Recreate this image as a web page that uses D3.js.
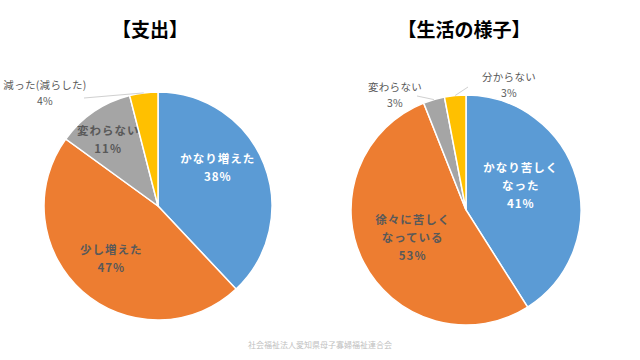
<!DOCTYPE html>
<html><head><meta charset="utf-8">
<script src="https://cdn.jsdelivr.net/npm/d3@7"></script>
<style>
body{margin:0;background:#fff;}
text{font-family:"Noto Sans CJK JP","Noto Sans",sans-serif;}
</style></head>
<body><svg id="c" width="640" height="360"></svg>
<script>
// ---- data ----
const titles = ["【支出】", "【生活の様子】"];
const spendCategories = ["かなり増えた", "少し増えた", "変わらない", "減った(減らした)"];
const spendValues = [38, 47, 11, 4];
const lifeCategories = ["かなり苦しくなった", "徐々に苦しくなっている", "変わらない", "分からない"];
const lifeValues = [41, 53, 3, 3];
const spendLabelLines = [["かなり増えた"], ["少し増えた"], ["変わらない"], ["減った(減らした)"]];
const lifeLabelLines = [["かなり苦しく", "なった"], ["徐々に苦しく", "なっている"], ["変わらない"], ["分からない"]];
const footer = "社会福祉法人愛知県母子寡婦福祉連合会";

// ---- style ----
const colors = ["#5B9BD5", "#ED7D31", "#A5A5A5", "#FFC000"];
const svg = d3.select("#c");

const pies = [
  {cx:158, cy:206, r:114, values:spendValues, lines:spendLabelLines, title:titles[0], tx:150,
   lab:[{f:0.62,dx:-6,dy:-12,fill:"#fff"},{f:0.62,dx:0,dy:0,fill:"#595959"},{f:0.7,dx:-5,dy:0,fill:"#595959"},
        {out:true,lx:45,ly:93,sx:84,sy:98}]},
  {cx:466, cy:210, r:115, values:lifeValues, lines:lifeLabelLines, title:titles[1], tx:464,
   lab:[{f:0.55,dx:-6,dy:-6,fill:"#fff"},{f:0.55,dx:3,dy:-1,fill:"#595959"},
        {out:true,lx:395,ly:95,sx:417,sy:96},{out:true,lx:509,ly:85,sx:468,sy:87}]}
];

pies.forEach(p => {
  const g = svg.append("g").attr("transform", `translate(${p.cx},${p.cy})`);
  const arcs = d3.pie().sort(null).value(d => d)(p.values);
  const arc = d3.arc().innerRadius(0).outerRadius(p.r);
  g.selectAll("path.s").data(arcs).join("path")
    .attr("class","s").attr("d", arc)
    .attr("fill", (d,i) => colors[i])
    .attr("stroke", "#fff").attr("stroke-width", 1.5);

  svg.append("text").attr("x", p.tx).attr("y", 37)
    .attr("text-anchor","middle").attr("font-size", 19).attr("font-weight","bold")
    .attr("fill","#000").text(p.title);

  arcs.forEach((d,i) => {
    const L = p.lab[i];
    const lines = p.lines[i].concat([p.values[i] + "%"]);
    const lh = L.out ? 16 : 18;
    let x, y, fill, weight, size;
    if (!L.out) {
      const c = d3.arc().innerRadius(0).outerRadius(2*p.r*L.f).centroid(d);
      x = p.cx + c[0] + L.dx; y = p.cy + c[1] + L.dy;
      fill = L.fill; weight = "bold"; size = 11.5;
    } else {
      const mid = (d.startAngle + d.endAngle)/2;
      const ex = p.cx + p.r*Math.sin(mid), ey = p.cy - p.r*Math.cos(mid);
      svg.append("line").attr("x1", L.sx).attr("y1", L.sy).attr("x2", ex).attr("y2", ey)
        .attr("stroke","#d0d0d0").attr("stroke-width",1);
      x = L.lx; y = L.ly; fill = "#595959"; weight = "normal"; size = 10.5;
    }
    const h = (lines.length-1)*lh;
    const t = svg.append("text").attr("text-anchor","middle")
      .attr("font-size", size).attr("font-weight", weight).attr("fill", fill)
      .attr("letter-spacing", L.out ? 0.3 : 1);
    lines.forEach((s,k) => {
      t.append("tspan").attr("x", x).attr("y", y - h/2 + k*lh)
        .attr("dy","0.35em").text(s);
    });
  });
});

svg.append("text").attr("x", 320).attr("y", 345).attr("text-anchor","middle")
  .attr("font-size", 8).attr("fill","#c0c0c0").attr("dy","0.35em").text(footer);
</script></body></html>
